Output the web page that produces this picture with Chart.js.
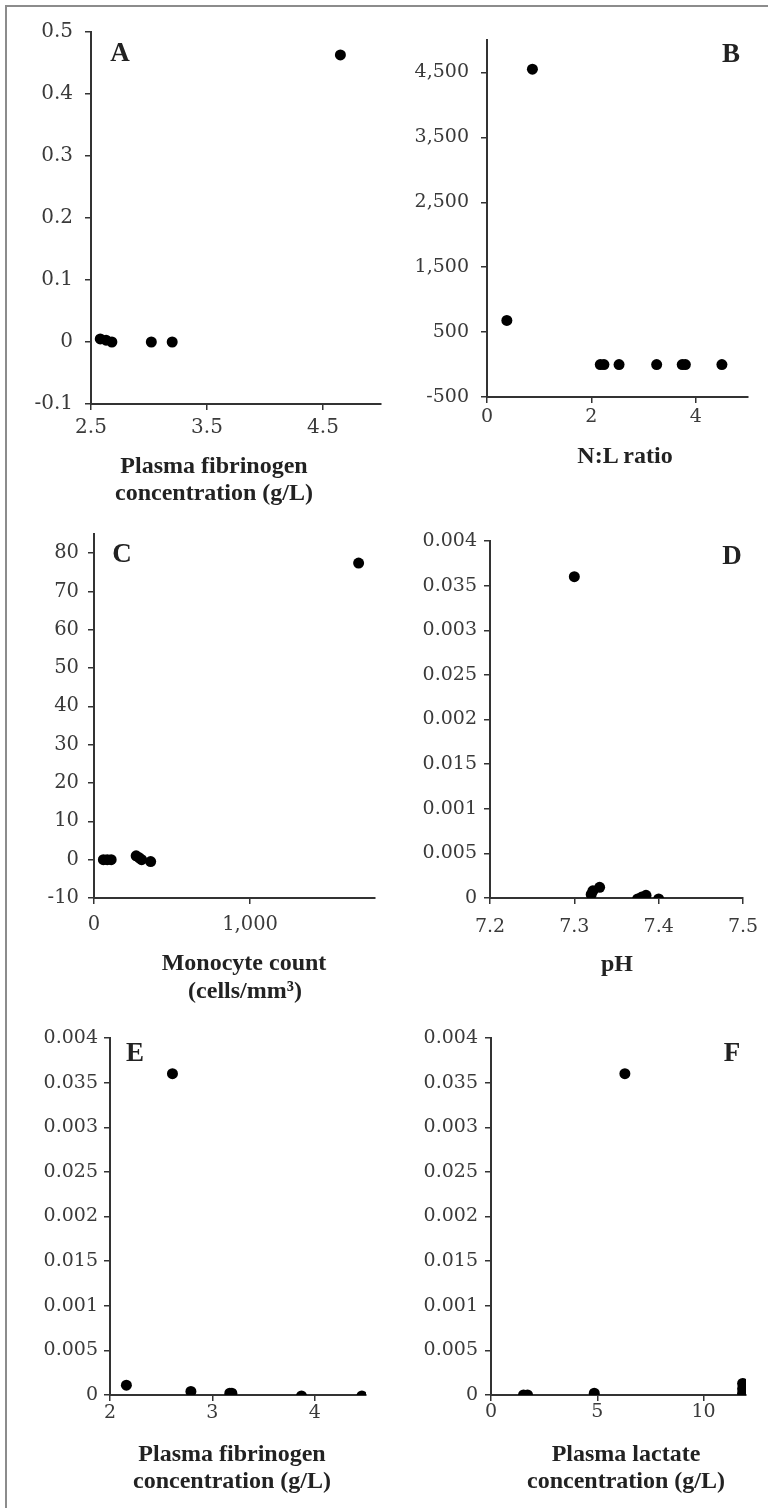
<!DOCTYPE html>
<html>
<head>
<meta charset="utf-8">
<script src="https://cdn.jsdelivr.net/npm/chart.js@4/dist/chart.umd.min.js"></script>
<style>
  html, body { margin:0; padding:0; background:#fff; }
  body { width:768px; height:1508px; position:relative; overflow:hidden; font-family:"Liberation Serif","DejaVu Serif",serif; }
  #frame { position:absolute; left:5px; top:5px; width:800px; height:1600px; border-top:2px solid #8c8c8c; border-left:2px solid #8c8c8c; }
  canvas { position:absolute; }
  .txt { position:absolute; transform:translate(-50%,-50%); white-space:nowrap; line-height:1; color:#222; font-weight:bold; }
  .ttl { font-size:24px; }
  .let { font-size:27px; }
</style>
</head>
<body>
<div id="frame"></div>

<script>
// ---------------- DATA ----------------
// Panel A
const aX = [2.58, 2.63, 2.68, 3.02, 3.2, 4.65];
const aY = [0.005, 0.003, 0, 0, 0, 0.463];
const aXTicks = [2.5, 3.5, 4.5];
const aXLabels = ["2.5", "3.5", "4.5"];
const aYTicks = [-0.1, 0, 0.1, 0.2, 0.3, 0.4, 0.5];
const aYLabels = ["-0.1", "0", "0.1", "0.2", "0.3", "0.4", "0.5"];

// Panel B
const bX = [0.38, 0.87, 2.17, 2.24, 2.53, 3.25, 3.74, 3.8, 4.5];
const bY = [680, 4550, 0, 0, 0, 0, 0, 0, 0];
const bXTicks = [0, 2, 4];
const bXLabels = ["0", "2", "4"];
const bYTicks = [-500, 500, 1500, 2500, 3500, 4500];
const bYLabels = ["-500", "500", "1,500", "2,500", "3,500", "4,500"];

// Panel C
const cX = [60, 85, 110, 270, 290, 305, 363, 1695];
const cY = [0, 0, 0, 1, 0.5, 0, -0.5, 77.4];
const cXTicks = [0, 1000];
const cXLabels = ["0", "1,000"];
const cYTicks = [-10, 0, 10, 20, 30, 40, 50, 60, 70, 80];
const cYLabels = ["-10", "0", "10", "20", "30", "40", "50", "60", "70", "80"];

// Panel D
const dX = [7.30, 7.32, 7.322, 7.33, 7.375, 7.38, 7.385, 7.40];
const dY = [0.0036, 0.00004, 0.00008, 0.00012, -0.00001, 0.00001, 0.00003, -0.00001];
const dXTicks = [7.2, 7.3, 7.4, 7.5];
const dXLabels = ["7.2", "7.3", "7.4", "7.5"];

// Panel E
const eX = [2.16, 2.61, 2.79, 3.17, 3.19, 3.87, 4.46];
const eY = [0.00011, 0.0036, 0.00004, 0.00002, 0.00002, -0.00001, -0.00001];
const eXTicks = [2, 3, 4];
const eXLabels = ["2", "3", "4"];

// Panel F
const fX = [1.53, 1.72, 4.86, 6.3, 11.84, 11.84, 11.84];
const fY = [0, 0, 0.00002, 0.0036, 0.00013, 0.00007, 0.00002];
const fXTicks = [0, 5, 10];
const fXLabels = ["0", "5", "10"];

// shared y ticks for D, E, F (labels as printed in the figure)
const smallYTicks = [0, 0.0005, 0.001, 0.0015, 0.002, 0.0025, 0.003, 0.0035, 0.004];
const smallYLabels = ["0", "0.005", "0.001", "0.015", "0.002", "0.025", "0.003", "0.035", "0.004"];

// ---------------- LAYOUT ----------------
const YW = 95, XH = 50, PT = 40, PR = 40;
const panels = [
  { x:aX, y:aY, xt:aXTicks, xl:aXLabels, yt:aYTicks, yl:aYLabels, xmin:2.5, xmax:5, ymin:-0.1, ymax:0.5,
    L:90.7, R:381, T:32.3, B:404, fs:20, xpad:6, ypad:12,
    letter:"A", lx:120, ly:52, titles:[["Plasma fibrinogen",214,465],["concentration (g/L)",214,492]] },
  { x:bX, y:bY, xt:bXTicks, xl:bXLabels, yt:bYTicks, yl:bYLabels, xmin:0, xmax:5, ymin:-500, ymax:5000,
    L:486.7, R:747.3, T:40, B:397.3, fs:19, xpad:3, ypad:12,
    letter:"B", lx:731, ly:53, titles:[["N:L ratio",625,455]] },
  { x:cX, y:cY, xt:cXTicks, xl:cXLabels, yt:cYTicks, yl:cYLabels, xmin:0, xmax:1800, ymin:-10, ymax:85,
    L:94, R:374.8, T:534.2, B:898.3, fs:19.5, xpad:9, ypad:9,
    letter:"C", lx:122, ly:553, titles:[["Monocyte count",244,962],["(cells/mm\u00B3)",245,990]] },
  { x:dX, y:dY, xt:dXTicks, xl:dXLabels, yt:smallYTicks, yl:smallYLabels, xmin:7.2, xmax:7.5, ymin:0, ymax:0.004,
    L:490, R:743.3, T:540.7, B:897.3, fs:19, xpad:12, ypad:7,
    letter:"D", lx:732, ly:555, titles:[["pH",617,963]] },
  { x:eX, y:eY, xt:eXTicks, xl:eXLabels, yt:smallYTicks, yl:smallYLabels, xmin:2, xmax:4.5, ymin:0, ymax:0.004,
    L:110, R:366, T:1038.3, B:1395, fs:19, xpad:1, ypad:6,
    letter:"E", lx:135, ly:1052, titles:[["Plasma fibrinogen",232,1453],["concentration (g/L)",232,1480]] },
  { x:fX, y:fY, xt:fXTicks, xl:fXLabels, yt:smallYTicks, yl:smallYLabels, xmin:0, xmax:12, ymin:0, ymax:0.004,
    L:490.7, R:745.8, T:1038.3, B:1395, fs:19, xpad:0, ypad:7,
    letter:"F", lx:732, ly:1052, titles:[["Plasma lactate",626,1453],["concentration (g/L)",626,1480]] }
];

const FONT = '"DejaVu Serif", "Liberation Serif", serif';

function build() {
  panels.forEach(function(p) {
    const cv = document.createElement('canvas');
    const left = Math.round(p.L - YW), top = Math.round(p.T - PT);
    const w = Math.round(p.R - p.L + YW + PR), h = Math.round(p.B - p.T + PT + XH);
    cv.width = w; cv.height = h;
    cv.style.left = left + 'px'; cv.style.top = top + 'px';
    cv.style.width = w + 'px'; cv.style.height = h + 'px';
    document.body.appendChild(cv);

    const pts = p.x.map(function(v, i) { return { x: v, y: p.y[i] }; });
    const axisCommon = {
      border: { display: true, color: '#333', width: 2 },
      grid: { drawOnChartArea: false, drawTicks: true, tickLength: 6, color: '#333', lineWidth: 1.5 }
    };

    new Chart(cv, {
      type: 'scatter',
      data: { datasets: [{ data: pts, backgroundColor: '#000', borderWidth: 0, pointRadius: 5.5, pointHoverRadius: 5.5 }] },
      options: {
        responsive: false, animation: false, devicePixelRatio: 1,
        layout: { padding: { top: PT, right: PR, left: 0, bottom: 0 } },
        plugins: { legend: { display: false }, tooltip: { enabled: false } },
        scales: {
          x: Object.assign({}, axisCommon, {
            type: 'linear', min: p.xmin, max: p.xmax,
            afterBuildTicks: function(s) { s.ticks = p.xt.map(function(v){ return { value: v }; }); },
            afterFit: function(s) { s.height = XH; },
            ticks: { autoSkip: false, maxRotation: 0, padding: p.xpad, color: '#3a3a3a',
                     font: { family: FONT, size: p.fs },
                     callback: function(v, i) { return p.xl[i]; } }
          }),
          y: Object.assign({}, axisCommon, {
            type: 'linear', min: p.ymin, max: p.ymax,
            afterBuildTicks: function(s) { s.ticks = p.yt.map(function(v){ return { value: v }; }); },
            afterFit: function(s) { s.width = YW; },
            ticks: { autoSkip: false, padding: p.ypad, color: '#3a3a3a',
                     font: { family: FONT, size: p.fs },
                     callback: function(v, i) { return p.yl[i]; } }
          })
        }
      }
    });

    const l = document.createElement('div');
    l.className = 'txt let'; l.textContent = p.letter;
    l.style.left = p.lx + 'px'; l.style.top = p.ly + 'px';
    document.body.appendChild(l);
    p.titles.forEach(function(t) {
      const d = document.createElement('div');
      d.className = 'txt ttl'; d.textContent = t[0];
      d.style.left = t[1] + 'px'; d.style.top = t[2] + 'px';
      document.body.appendChild(d);
    });
  });
}

if (document.fonts && document.fonts.load) {
  Promise.all([
    document.fonts.load('20px "DejaVu Serif"'),
    document.fonts.load('bold 24px "Liberation Serif"')
  ]).then(build, build);
} else {
  build();
}
</script>
</body>
</html>
